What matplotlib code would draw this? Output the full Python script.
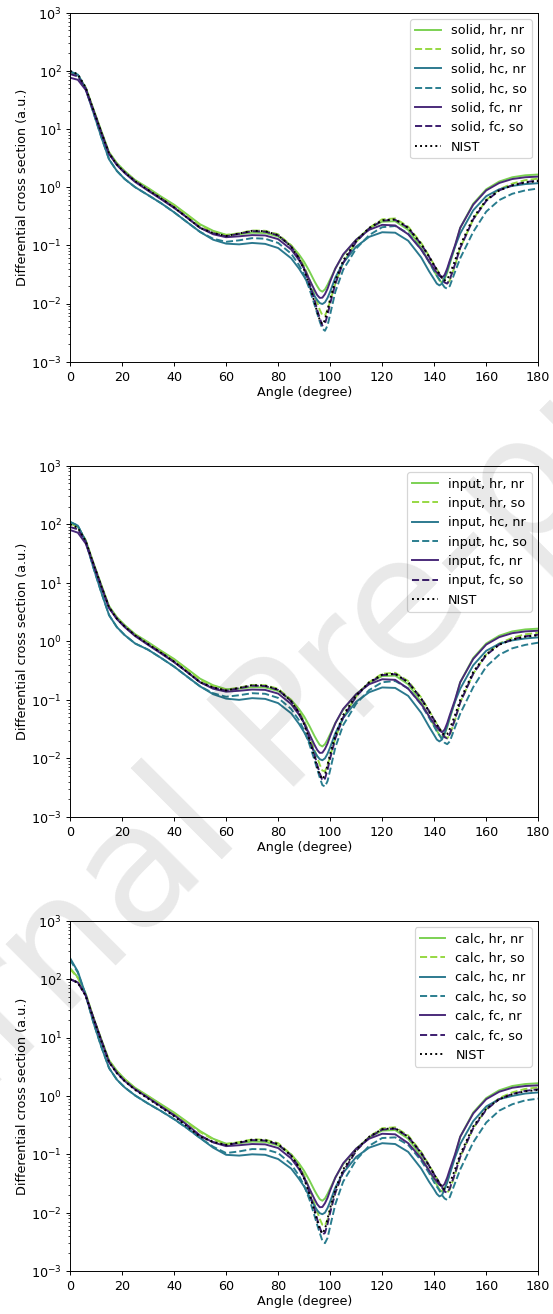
import matplotlib
matplotlib.use("Agg")
import matplotlib.pyplot as plt

# scattering angle grid (degree), shared by every curve
angle = [0, 3, 6, 9, 12, 15, 18, 21, 25, 30,
         35, 40, 45, 50, 55, 60, 65, 70, 75, 80,
         85, 88, 90, 92, 94, 95, 96, 97, 98, 99,
         100, 102, 105, 110, 115, 120, 125, 130, 135, 138,
         140, 141, 142, 143, 144, 145, 146, 148, 150, 155,
         160, 165, 170, 175, 180]

nist = [100, 87, 52, 21, 8.8, 3.8, 2.45, 1.8, 1.27, 0.9,
        0.64, 0.45, 0.3, 0.2, 0.163, 0.145, 0.16, 0.178, 0.175, 0.15,
        0.095, 0.06, 0.038, 0.021, 0.0105, 0.0072, 0.0052, 0.0044, 0.0052, 0.0078,
        0.012, 0.025, 0.055, 0.12, 0.2, 0.27, 0.28, 0.2, 0.105, 0.064,
        0.045, 0.038, 0.032, 0.028, 0.025, 0.026, 0.032, 0.055, 0.1, 0.3,
        0.6, 0.88, 1.07, 1.2, 1.27]

# --- solid ---
solid_hr_nr = [95, 84, 52, 22, 9.3, 4.0, 2.6, 1.9, 1.33, 0.97,
               0.69, 0.5, 0.34, 0.23, 0.178, 0.152, 0.155, 0.165, 0.163, 0.142,
               0.1, 0.07, 0.052, 0.036, 0.024, 0.02, 0.017, 0.016, 0.0175, 0.021,
               0.026, 0.04, 0.068, 0.125, 0.195, 0.255, 0.26, 0.185, 0.092, 0.052,
               0.036, 0.03, 0.025, 0.023, 0.026, 0.034, 0.048, 0.095, 0.2, 0.52,
               0.92, 1.25, 1.48, 1.6, 1.65]
solid_hr_so = [95, 84, 51, 21, 9, 3.9, 2.5, 1.85, 1.3, 0.93,
               0.67, 0.48, 0.33, 0.22, 0.172, 0.15, 0.162, 0.18, 0.178, 0.155,
               0.1, 0.065, 0.044, 0.026, 0.014, 0.0105, 0.0078, 0.0063, 0.0062, 0.0078,
               0.011, 0.022, 0.05, 0.115, 0.2, 0.28, 0.29, 0.21, 0.11, 0.066,
               0.046, 0.039, 0.033, 0.028, 0.024, 0.022, 0.025, 0.045, 0.09, 0.28,
               0.6, 0.92, 1.15, 1.32, 1.4]
solid_hc_nr = [97, 86, 49, 19, 7.3, 3.0, 1.9, 1.38, 1.0, 0.73,
               0.53, 0.37, 0.25, 0.17, 0.125, 0.107, 0.104, 0.11, 0.106, 0.09,
               0.06, 0.04, 0.029, 0.02, 0.0135, 0.0115, 0.0102, 0.0098, 0.0105, 0.0125,
               0.016, 0.028, 0.05, 0.095, 0.14, 0.168, 0.165, 0.12, 0.062, 0.036,
               0.026, 0.022, 0.0205, 0.022, 0.028, 0.037, 0.052, 0.095, 0.16, 0.4,
               0.7, 0.92, 1.05, 1.13, 1.17]
solid_hc_so = [97, 86, 49, 19, 7.3, 3.0, 1.9, 1.38, 1.0, 0.73,
               0.53, 0.37, 0.25, 0.17, 0.13, 0.115, 0.122, 0.133, 0.13, 0.11,
               0.072, 0.046, 0.031, 0.018, 0.0095, 0.0068, 0.0049, 0.0037, 0.0034, 0.0042,
               0.0065, 0.016, 0.038, 0.088, 0.15, 0.205, 0.215, 0.16, 0.085, 0.052,
               0.036, 0.03, 0.026, 0.022, 0.019, 0.018, 0.02, 0.035, 0.06, 0.17,
               0.38, 0.6, 0.77, 0.88, 0.95]
solid_fc_nr = [76, 70, 47, 20.5, 8.6, 3.7, 2.4, 1.75, 1.23, 0.87,
               0.62, 0.44, 0.3, 0.2, 0.155, 0.138, 0.143, 0.15, 0.148, 0.128,
               0.085, 0.056, 0.04, 0.026, 0.017, 0.014, 0.0125, 0.0126, 0.0145, 0.018,
               0.024, 0.04, 0.07, 0.125, 0.185, 0.225, 0.22, 0.155, 0.085, 0.053,
               0.039, 0.034, 0.03, 0.028, 0.031, 0.04, 0.055, 0.1, 0.2, 0.5,
               0.88, 1.18, 1.38, 1.48, 1.52]
solid_fc_so = [88, 80, 50, 21, 8.8, 3.8, 2.45, 1.8, 1.27, 0.89,
               0.64, 0.45, 0.3, 0.2, 0.162, 0.143, 0.158, 0.175, 0.172, 0.148,
               0.095, 0.061, 0.04, 0.022, 0.0115, 0.0078, 0.0056, 0.0042, 0.0045, 0.0064,
               0.01, 0.022, 0.05, 0.115, 0.195, 0.265, 0.275, 0.2, 0.105, 0.064,
               0.045, 0.038, 0.032, 0.027, 0.023, 0.022, 0.026, 0.047, 0.09, 0.28,
               0.58, 0.88, 1.08, 1.22, 1.3]

# --- input ---
input_hr_nr = [105, 90, 54, 22, 9.3, 4.0, 2.6, 1.9, 1.33, 0.97,
               0.69, 0.5, 0.34, 0.23, 0.178, 0.152, 0.155, 0.165, 0.163, 0.142,
               0.1, 0.07, 0.052, 0.036, 0.024, 0.02, 0.017, 0.016, 0.0175, 0.021,
               0.026, 0.04, 0.068, 0.125, 0.195, 0.255, 0.26, 0.185, 0.092, 0.052,
               0.036, 0.03, 0.025, 0.023, 0.026, 0.034, 0.048, 0.095, 0.2, 0.52,
               0.92, 1.25, 1.48, 1.6, 1.65]
input_hr_so = [105, 90, 53, 21, 9, 3.9, 2.5, 1.85, 1.3, 0.93,
               0.67, 0.48, 0.33, 0.22, 0.172, 0.15, 0.162, 0.18, 0.178, 0.155,
               0.1, 0.065, 0.044, 0.026, 0.014, 0.0105, 0.0078, 0.0062, 0.006, 0.0076,
               0.011, 0.022, 0.05, 0.115, 0.2, 0.28, 0.29, 0.21, 0.11, 0.066,
               0.046, 0.039, 0.033, 0.028, 0.024, 0.022, 0.025, 0.045, 0.09, 0.28,
               0.6, 0.92, 1.15, 1.32, 1.4]
input_hc_nr = [110, 95, 51, 18, 6.9, 2.8, 1.75, 1.28, 0.92, 0.72,
               0.52, 0.37, 0.25, 0.17, 0.125, 0.105, 0.1, 0.107, 0.104, 0.088,
               0.059, 0.039, 0.028, 0.019, 0.013, 0.011, 0.0097, 0.0093, 0.01, 0.012,
               0.0155, 0.027, 0.049, 0.093, 0.135, 0.163, 0.16, 0.117, 0.06, 0.035,
               0.025, 0.021, 0.0195, 0.021, 0.027, 0.036, 0.051, 0.093, 0.155, 0.39,
               0.69, 0.91, 1.04, 1.12, 1.17]
input_hc_so = [110, 95, 51, 18, 6.9, 2.8, 1.75, 1.28, 0.92, 0.72,
               0.52, 0.37, 0.25, 0.17, 0.13, 0.113, 0.12, 0.13, 0.127, 0.108,
               0.07, 0.045, 0.03, 0.0175, 0.0093, 0.0066, 0.0047, 0.0035, 0.0033, 0.0041,
               0.0063, 0.0155, 0.037, 0.086, 0.147, 0.2, 0.21, 0.157, 0.083, 0.05,
               0.035, 0.029, 0.025, 0.021, 0.0185, 0.0175, 0.0195, 0.034, 0.058, 0.165,
               0.37, 0.59, 0.76, 0.87, 0.95]
input_fc_nr = [80, 72, 47, 20.5, 8.6, 3.7, 2.4, 1.75, 1.23, 0.87,
               0.62, 0.44, 0.3, 0.2, 0.155, 0.138, 0.143, 0.15, 0.148, 0.128,
               0.085, 0.056, 0.04, 0.026, 0.017, 0.014, 0.0124, 0.0125, 0.0145, 0.018,
               0.024, 0.04, 0.07, 0.125, 0.185, 0.225, 0.22, 0.155, 0.085, 0.053,
               0.039, 0.034, 0.03, 0.028, 0.031, 0.04, 0.055, 0.1, 0.2, 0.5,
               0.88, 1.18, 1.38, 1.48, 1.52]
input_fc_so = [90, 82, 51, 21, 8.8, 3.8, 2.45, 1.8, 1.27, 0.89,
               0.64, 0.45, 0.3, 0.2, 0.162, 0.143, 0.158, 0.175, 0.172, 0.148,
               0.095, 0.061, 0.04, 0.022, 0.0115, 0.0078, 0.0056, 0.0042, 0.0045, 0.0064,
               0.01, 0.022, 0.05, 0.115, 0.195, 0.265, 0.275, 0.2, 0.105, 0.064,
               0.045, 0.038, 0.032, 0.027, 0.023, 0.022, 0.026, 0.047, 0.09, 0.28,
               0.58, 0.88, 1.08, 1.22, 1.3]

# --- calc ---
calc_hr_nr = [155, 108, 57, 22, 9.4, 4.1, 2.7, 1.95, 1.38, 1.0,
              0.72, 0.52, 0.36, 0.25, 0.185, 0.152, 0.155, 0.165, 0.163, 0.142,
              0.1, 0.07, 0.052, 0.036, 0.024, 0.02, 0.017, 0.016, 0.0175, 0.021,
              0.026, 0.04, 0.068, 0.125, 0.195, 0.255, 0.26, 0.185, 0.092, 0.052,
              0.036, 0.03, 0.025, 0.023, 0.026, 0.034, 0.048, 0.095, 0.2, 0.52,
              0.92, 1.25, 1.48, 1.6, 1.65]
calc_hr_so = [150, 105, 56, 22, 9.3, 4.0, 2.65, 1.92, 1.35, 0.98,
              0.7, 0.5, 0.35, 0.24, 0.18, 0.15, 0.162, 0.18, 0.178, 0.155,
              0.1, 0.065, 0.044, 0.026, 0.014, 0.0105, 0.0078, 0.0062, 0.006, 0.0076,
              0.011, 0.022, 0.05, 0.115, 0.2, 0.28, 0.29, 0.21, 0.11, 0.066,
              0.046, 0.039, 0.033, 0.028, 0.024, 0.022, 0.025, 0.045, 0.09, 0.28,
              0.6, 0.92, 1.15, 1.32, 1.4]
calc_hc_nr = [230, 135, 54, 18, 7, 3.0, 1.9, 1.4, 1.02, 0.74,
              0.55, 0.4, 0.28, 0.19, 0.13, 0.098, 0.095, 0.1, 0.098, 0.083,
              0.057, 0.038, 0.028, 0.019, 0.013, 0.011, 0.0098, 0.0094, 0.01, 0.012,
              0.0155, 0.027, 0.048, 0.09, 0.13, 0.155, 0.15, 0.11, 0.057, 0.034,
              0.025, 0.021, 0.019, 0.02, 0.025, 0.033, 0.046, 0.088, 0.15, 0.37,
              0.66, 0.88, 1.0, 1.1, 1.15]
calc_hc_so = [215, 130, 53, 18, 7, 3.0, 1.9, 1.4, 1.02, 0.74,
              0.55, 0.4, 0.28, 0.19, 0.135, 0.105, 0.112, 0.123, 0.122, 0.105,
              0.068, 0.043, 0.029, 0.017, 0.0088, 0.0062, 0.0045, 0.0033, 0.003, 0.0037,
              0.0058, 0.014, 0.034, 0.08, 0.14, 0.19, 0.195, 0.145, 0.078, 0.048,
              0.033, 0.028, 0.024, 0.02, 0.0175, 0.0165, 0.0185, 0.032, 0.055, 0.16,
              0.35, 0.56, 0.72, 0.84, 0.9]
calc_fc_nr = [100, 88, 53, 21.5, 9, 3.8, 2.5, 1.8, 1.3, 0.93,
              0.66, 0.47, 0.32, 0.21, 0.16, 0.138, 0.143, 0.15, 0.148, 0.128,
              0.085, 0.056, 0.04, 0.026, 0.017, 0.014, 0.0124, 0.0125, 0.0145, 0.018,
              0.024, 0.04, 0.07, 0.125, 0.185, 0.225, 0.22, 0.155, 0.085, 0.053,
              0.039, 0.034, 0.03, 0.028, 0.031, 0.04, 0.055, 0.1, 0.2, 0.5,
              0.88, 1.18, 1.38, 1.48, 1.52]
calc_fc_so = [100, 88, 53, 21.5, 9, 3.8, 2.5, 1.8, 1.3, 0.92,
              0.65, 0.46, 0.31, 0.205, 0.162, 0.143, 0.158, 0.175, 0.172, 0.148,
              0.095, 0.061, 0.04, 0.022, 0.0115, 0.0078, 0.0056, 0.0042, 0.0045, 0.0064,
              0.01, 0.022, 0.05, 0.115, 0.195, 0.265, 0.275, 0.2, 0.105, 0.064,
              0.045, 0.038, 0.032, 0.027, 0.023, 0.022, 0.026, 0.047, 0.09, 0.28,
              0.58, 0.88, 1.08, 1.22, 1.3]

variants = ["hr, nr", "hr, so", "hc, nr", "hc, so", "fc, nr", "fc, so"]
colors = ["#7ad151", "#95d840", "#2a788e", "#287c8e", "#482878", "#3b1c6e"]
styles = ["-", "--", "-", "--", "-", "--"]

panels = [
    ("solid", [solid_hr_nr, solid_hr_so, solid_hc_nr, solid_hc_so, solid_fc_nr, solid_fc_so]),
    ("input", [input_hr_nr, input_hr_so, input_hc_nr, input_hc_so, input_fc_nr, input_fc_so]),
    ("calc", [calc_hr_nr, calc_hr_so, calc_hc_nr, calc_hc_so, calc_fc_nr, calc_fc_so]),
]

# axes boxes in figure fractions: left, bottom, width, height
boxes = [
    [0.1266, 0.7245, 0.846, 0.2656],
    [0.1266, 0.3782, 0.846, 0.2671],
    [0.1266, 0.0327, 0.846, 0.2664],
]

plt.rcParams["font.size"] = 10.6

dpi = 86.4
fig = plt.figure(figsize=(553.4 / dpi, 1314.4 / dpi), dpi=dpi)

for (name, series), box in zip(panels, boxes):
    ax = fig.add_axes(box)
    for lab, col, ls, vals in zip(variants, colors, styles, series):
        ax.plot(angle, vals, color=col, linestyle=ls, linewidth=1.6,
                label=f"{name}, {lab}")
    ax.plot(angle, nist, color="black", linestyle=":", linewidth=1.6, label="NIST")
    ax.set_yscale("log")
    ax.set_xlim(0, 180)
    ax.set_ylim(1e-3, 1e3)
    ax.set_xticks(range(0, 181, 20))
    ax.set_xlabel("Angle (degree)", labelpad=2)
    ax.set_ylabel("Differential cross section (a.u.)", labelpad=2)
    ax.legend(loc="upper right")

# preprint watermark across the whole page
fig.text(-0.306, 0.042, "Journal Pre-proof", fontsize=142, color="black",
         alpha=0.09, rotation=45, rotation_mode="anchor",
         ha="left", va="baseline", zorder=10)

fig.savefig("out.png", dpi=dpi)
